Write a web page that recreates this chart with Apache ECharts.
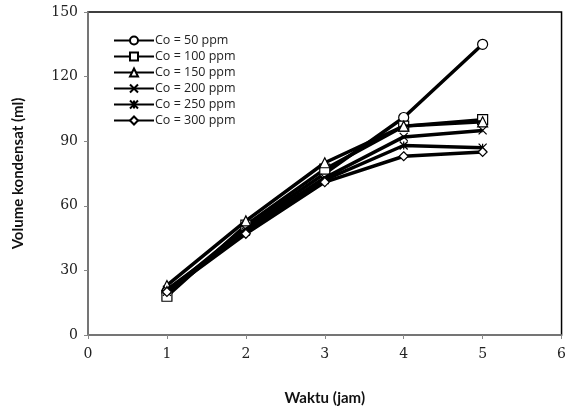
<!DOCTYPE html>
<html><head><meta charset="utf-8">
<script src="https://cdn.jsdelivr.net/npm/echarts@6/dist/echarts.min.js"></script>
<style>html,body{margin:0;padding:0;background:#fff}#c{width:569px;height:412px}</style>
</head><body><div id="c"></div>
<script>
var hours = [1, 2, 3, 4, 5];
var seriesNames = ['Co = 50 ppm', 'Co = 100 ppm', 'Co = 150 ppm', 'Co = 200 ppm', 'Co = 250 ppm', 'Co = 300 ppm'];
var co50  = [20, 50, 75, 101, 135];
var co100 = [18, 51, 77, 97, 100];
var co150 = [23, 53, 80, 97, 99];
var co200 = [20, 49, 73, 92, 95];
var co250 = [21, 48, 72, 88, 87];
var co300 = [20, 47, 71, 83, 85];
var xTicks = [0, 1, 2, 3, 4, 5, 6];
var yTicks = [0, 30, 60, 90, 120, 150];

var values = [co50, co100, co150, co200, co250, co300];
var symbols = ['circle', 'rect', 'triangle',
  'path://M0,0L10,10M10,0L0,10',
  'path://M0,0L10,10M10,0L0,10M5,0L5,10',
  'diamond'];
var sizes = [10, 10, 10, 8, 8, 9];

var series = values.map(function (v, i) {
  return {
    name: seriesNames[i],
    type: 'line',
    data: hours.map(function (h, j) { return [h, v[j]]; }),
    symbol: symbols[i],
    symbolSize: sizes[i],
    showAllSymbol: true,
    lineStyle: { color: '#000', width: 3.5 },
    itemStyle: { color: '#fff', borderColor: '#000', borderWidth: 1.2 },
    z: 3 + i
  };
});

var chart = echarts.init(document.getElementById('c'));
chart.setOption({
  animation: false,
  backgroundColor: '#fff',
  grid: { left: 88, right: 3, top: 12, bottom: 77, show: true, borderColor: '#000', borderWidth: 1.5 },
  legend: {
    orient: 'vertical', left: 108, top: 29,
    itemWidth: 40, itemHeight: 10, itemGap: 3,
    textStyle: { fontFamily: 'Open Sans', fontSize: 12.5, color: '#222', padding: [0, 0, 0, -4] },
    data: seriesNames
  },
  xAxis: {
    type: 'value', min: 0, max: 6, interval: 1,
    name: 'Waktu (jam)', nameLocation: 'middle', nameGap: 56,
    nameTextStyle: { fontFamily: 'Lato', fontWeight: 'bold', fontSize: 15, color: '#111' },
    axisLine: { lineStyle: { color: '#888', width: 1.5 } },
    axisTick: { show: true, length: 4, lineStyle: { color: '#888' } },
    axisLabel: { fontFamily: 'DejaVu Serif', fontSize: 14, color: '#222', margin: 12 },
    splitLine: { show: false }
  },
  yAxis: {
    type: 'value', min: 0, max: 150, interval: 30,
    name: 'Volume kondensat (ml)', nameLocation: 'middle', nameGap: 62, nameRotate: 90,
    nameTextStyle: { fontFamily: 'Lato', fontWeight: 'bold', fontSize: 15, color: '#111' },
    axisLine: { lineStyle: { color: '#888', width: 1.5 } },
    axisTick: { show: true, length: 4, lineStyle: { color: '#888' } },
    axisLabel: { fontFamily: 'DejaVu Serif', fontSize: 14, color: '#222', margin: 10 },
    splitLine: { show: false }
  },
  series: series
});
</script></body></html>
